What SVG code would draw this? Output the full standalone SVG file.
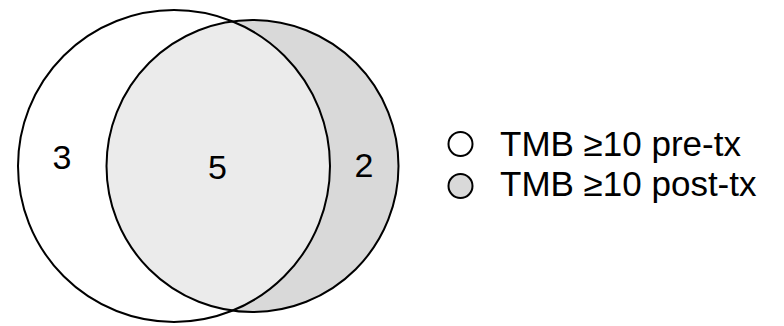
<svg xmlns="http://www.w3.org/2000/svg" width="784" height="326" viewBox="0 0 784 326">
<style>
.c{stroke:#000;stroke-width:2;fill:none}
.t{font-family:"Liberation Sans",Arial,sans-serif;font-size:34px;fill:#000}
.lg{font-size:35px}
</style>
<defs>
<clipPath id="clipL"><circle cx="174" cy="166" r="156"/></clipPath>
</defs>
<rect width="784" height="326" fill="#fff"/>
<g id="post">
<circle cx="252.5" cy="166" r="146" fill="#d9d9d9"/>
</g>
<g id="overlap">
<circle cx="252.5" cy="166" r="146" fill="#ebebeb" clip-path="url(#clipL)"/>
</g>
<g id="outlines">
<circle class="c" cx="174" cy="166" r="156"/>
<circle class="c" cx="252.5" cy="166" r="146"/>
</g>
<g id="labels">
<text class="t" x="62" y="169" text-anchor="middle">3</text>
<text class="t" x="217.5" y="179" text-anchor="middle">5</text>
<text class="t" x="364" y="177" text-anchor="middle">2</text>
</g>
<g id="legend">
<circle class="c" cx="460.5" cy="144" r="12" fill="#fff"/>
<text class="t lg" x="500" y="156">TMB ≥10 pre-tx</text>
<circle class="c" cx="460.5" cy="186" r="12" style="fill:#d9d9d9"/>
<text class="t lg" x="500" y="196">TMB ≥10 post-tx</text>
</g>
</svg>
